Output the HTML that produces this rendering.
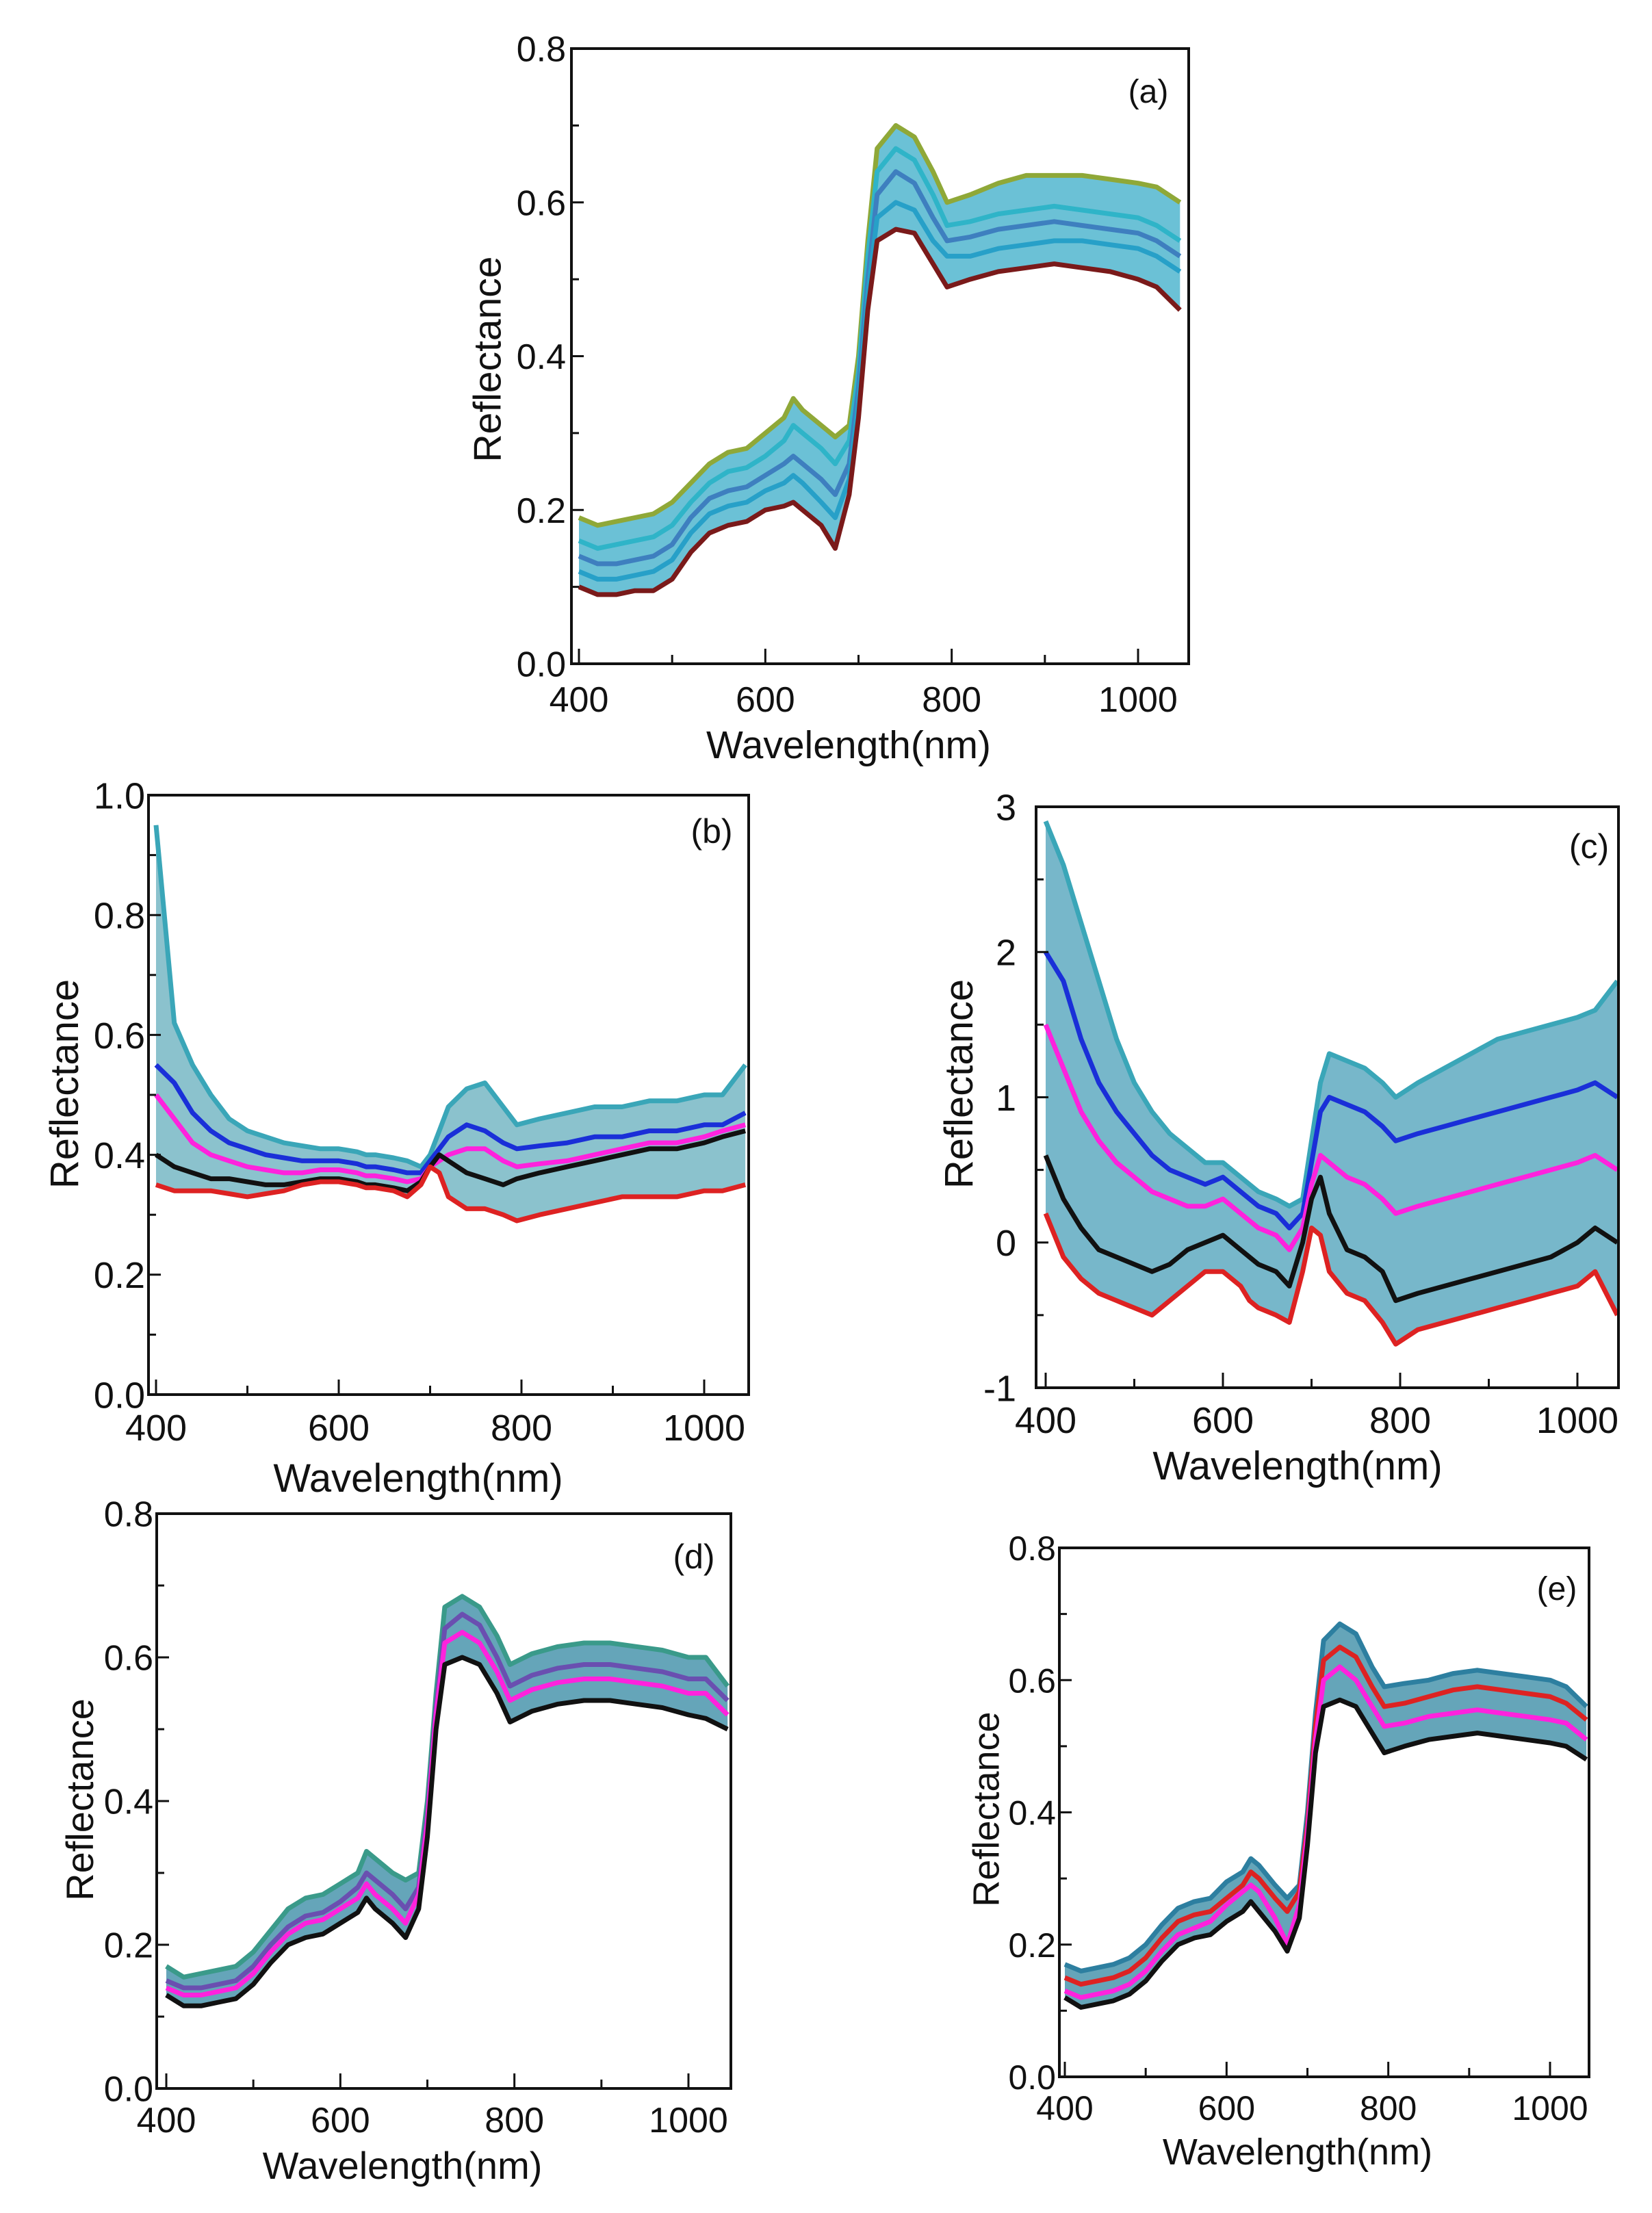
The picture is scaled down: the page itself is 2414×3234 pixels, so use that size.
<!DOCTYPE html>
<html><head><meta charset="utf-8"><style>
html,body{margin:0;padding:0;background:#fff;}
svg{display:block;}
text{font-family:"Liberation Sans",sans-serif;fill:#111;}
</style></head><body>
<svg id="fig" width="2414" height="3234" viewBox="0 0 2414 3234" xmlns="http://www.w3.org/2000/svg"></svg>
<script>
// shared wavelength grid (nm)
const wavelengths = [400,420,440,460,480,500,520,540,560,580,600,620,630,640,660,675,690,700,710,720,740,760,780,795,820,850,880,910,940,970,1000,1020,1045];

// panel (a) raw spectra
const aTop  = [0.19,0.18,0.185,0.19,0.195,0.21,0.235,0.26,0.275,0.28,0.30,0.32,0.345,0.33,0.31,0.295,0.31,0.40,0.55,0.67,0.70,0.685,0.64,0.60,0.61,0.625,0.635,0.635,0.635,0.63,0.625,0.62,0.60];
const aMid1 = [0.16,0.15,0.155,0.16,0.165,0.18,0.21,0.235,0.25,0.255,0.27,0.29,0.31,0.30,0.28,0.26,0.29,0.38,0.53,0.64,0.67,0.655,0.61,0.57,0.575,0.585,0.59,0.595,0.59,0.585,0.58,0.57,0.55];
const aMid2 = [0.14,0.13,0.13,0.135,0.14,0.155,0.19,0.215,0.225,0.23,0.245,0.26,0.27,0.26,0.24,0.22,0.26,0.36,0.50,0.61,0.64,0.625,0.58,0.55,0.555,0.565,0.57,0.575,0.57,0.565,0.56,0.55,0.53];
const aMid3 = [0.12,0.11,0.11,0.115,0.12,0.135,0.17,0.195,0.205,0.21,0.225,0.235,0.245,0.235,0.21,0.19,0.24,0.34,0.48,0.58,0.60,0.59,0.55,0.53,0.53,0.54,0.545,0.55,0.55,0.545,0.54,0.53,0.51];
const aBot  = [0.10,0.09,0.09,0.095,0.095,0.11,0.145,0.17,0.18,0.185,0.20,0.205,0.21,0.20,0.18,0.15,0.22,0.32,0.46,0.55,0.565,0.56,0.52,0.49,0.50,0.51,0.515,0.52,0.515,0.51,0.50,0.49,0.46];

// panel (b)
const bTop  = [0.95,0.62,0.55,0.50,0.46,0.44,0.43,0.42,0.415,0.41,0.41,0.405,0.40,0.40,0.395,0.39,0.38,0.40,0.44,0.48,0.51,0.52,0.48,0.45,0.46,0.47,0.48,0.48,0.49,0.49,0.50,0.50,0.55];
const bMid1 = [0.55,0.52,0.47,0.44,0.42,0.41,0.40,0.395,0.39,0.39,0.39,0.385,0.38,0.38,0.375,0.37,0.37,0.39,0.41,0.43,0.45,0.44,0.42,0.41,0.415,0.42,0.43,0.43,0.44,0.44,0.45,0.45,0.47];
const bMid2 = [0.50,0.46,0.42,0.40,0.39,0.38,0.375,0.37,0.37,0.375,0.375,0.37,0.365,0.365,0.36,0.355,0.36,0.38,0.39,0.40,0.41,0.41,0.39,0.38,0.385,0.39,0.40,0.41,0.42,0.42,0.43,0.44,0.45];
const bMid3 = [0.40,0.38,0.37,0.36,0.36,0.355,0.35,0.35,0.355,0.36,0.36,0.355,0.35,0.35,0.345,0.34,0.355,0.38,0.40,0.39,0.37,0.36,0.35,0.36,0.37,0.38,0.39,0.40,0.41,0.41,0.42,0.43,0.44];
const bBot  = [0.35,0.34,0.34,0.34,0.335,0.33,0.335,0.34,0.35,0.355,0.355,0.35,0.345,0.345,0.34,0.33,0.35,0.38,0.37,0.33,0.31,0.31,0.30,0.29,0.30,0.31,0.32,0.33,0.33,0.33,0.34,0.34,0.35];

// panel (c)
const cTop  = [2.9,2.6,2.2,1.8,1.4,1.1,0.9,0.75,0.65,0.55,0.55,0.45,0.40,0.35,0.30,0.25,0.30,0.70,1.10,1.30,1.25,1.20,1.10,1.00,1.10,1.20,1.30,1.40,1.45,1.50,1.55,1.60,1.80];
const cMid1 = [2.0,1.8,1.4,1.1,0.9,0.75,0.6,0.5,0.45,0.40,0.45,0.35,0.30,0.25,0.20,0.10,0.20,0.55,0.90,1.00,0.95,0.90,0.80,0.70,0.75,0.80,0.85,0.90,0.95,1.00,1.05,1.10,1.00];
const cMid2 = [1.5,1.2,0.9,0.7,0.55,0.45,0.35,0.30,0.25,0.25,0.30,0.20,0.15,0.10,0.05,-0.05,0.10,0.40,0.60,0.55,0.45,0.40,0.30,0.20,0.25,0.30,0.35,0.40,0.45,0.50,0.55,0.60,0.50];
const cMid3 = [0.6,0.3,0.1,-0.05,-0.10,-0.15,-0.20,-0.15,-0.05,0.00,0.05,-0.05,-0.10,-0.15,-0.20,-0.30,0.00,0.30,0.45,0.20,-0.05,-0.10,-0.20,-0.40,-0.35,-0.30,-0.25,-0.20,-0.15,-0.10,0.00,0.10,0.00];
const cBot  = [0.2,-0.1,-0.25,-0.35,-0.40,-0.45,-0.50,-0.40,-0.30,-0.20,-0.20,-0.30,-0.40,-0.45,-0.50,-0.55,-0.20,0.10,0.05,-0.20,-0.35,-0.40,-0.55,-0.70,-0.60,-0.55,-0.50,-0.45,-0.40,-0.35,-0.30,-0.20,-0.50];

// panel (d)
const dTop  = [0.17,0.155,0.16,0.165,0.17,0.19,0.22,0.25,0.265,0.27,0.285,0.30,0.33,0.32,0.30,0.29,0.30,0.40,0.55,0.67,0.685,0.67,0.63,0.59,0.605,0.615,0.62,0.62,0.615,0.61,0.60,0.60,0.56];
const dMid1 = [0.15,0.14,0.14,0.145,0.15,0.17,0.20,0.225,0.24,0.245,0.26,0.28,0.30,0.29,0.27,0.25,0.28,0.38,0.53,0.64,0.66,0.645,0.60,0.56,0.575,0.585,0.59,0.59,0.585,0.58,0.57,0.57,0.54];
const dMid2 = [0.14,0.13,0.13,0.135,0.14,0.16,0.19,0.215,0.23,0.235,0.25,0.265,0.285,0.27,0.25,0.23,0.27,0.37,0.52,0.62,0.635,0.62,0.58,0.54,0.555,0.565,0.57,0.57,0.565,0.56,0.55,0.55,0.52];
const dBot  = [0.13,0.115,0.115,0.12,0.125,0.145,0.175,0.20,0.21,0.215,0.23,0.245,0.265,0.25,0.23,0.21,0.25,0.35,0.50,0.59,0.60,0.59,0.55,0.51,0.525,0.535,0.54,0.54,0.535,0.53,0.52,0.515,0.50];

// panel (e)
const eTop  = [0.17,0.16,0.165,0.17,0.18,0.20,0.23,0.255,0.265,0.27,0.295,0.31,0.33,0.32,0.29,0.27,0.29,0.40,0.55,0.66,0.685,0.67,0.62,0.59,0.595,0.60,0.61,0.615,0.61,0.605,0.60,0.59,0.56];
const eMid1 = [0.15,0.14,0.145,0.15,0.16,0.18,0.21,0.235,0.245,0.25,0.27,0.29,0.31,0.30,0.27,0.25,0.28,0.38,0.53,0.63,0.65,0.635,0.59,0.56,0.565,0.575,0.585,0.59,0.585,0.58,0.575,0.565,0.54];
const eMid2 = [0.13,0.12,0.125,0.13,0.14,0.16,0.19,0.215,0.225,0.235,0.26,0.28,0.29,0.28,0.24,0.20,0.26,0.37,0.51,0.60,0.62,0.60,0.56,0.53,0.535,0.545,0.55,0.555,0.55,0.545,0.54,0.535,0.51];
const eBot  = [0.12,0.105,0.11,0.115,0.125,0.145,0.175,0.20,0.21,0.215,0.235,0.25,0.265,0.25,0.22,0.19,0.24,0.35,0.49,0.56,0.57,0.56,0.52,0.49,0.50,0.51,0.515,0.52,0.515,0.51,0.505,0.50,0.48];

// tick labels
const xTicks = [400,600,800,1000];
const yTicksA = ["0.0","0.2","0.4","0.6","0.8"];
const yTicksB = ["0.0","0.2","0.4","0.6","0.8","1.0"];
const yTicksC = ["-1","0","1","2","3"];
const yTicksDE = ["0.0","0.2","0.4","0.6","0.8"];

const NS = "http://www.w3.org/2000/svg";
const svg = document.getElementById('fig');
function mk(tag, attrs, parent){ const e=document.createElementNS(NS,tag); for(const k in attrs) e.setAttribute(k,attrs[k]); (parent||svg).appendChild(e); return e; }

const panels = [
 {id:'a', L:835, R:1737, T:71, B:970, x0:846, x1:1663, ymin:0, ymax:0.8, yt:yTicksA, minor:0.1,
  series:[[aTop,'#8fa838'],[aMid1,'#2fb4c8'],[aMid2,'#3e7fbf'],[aMid3,'#27a0c8'],[aBot,'#7a1a1a']], band:'#46b2cc', op:0.8,
  fs:52, tfs:57, ylabX:827, ytX:711, ytY:525, xlabY:1040, xtX:1240, xtY:1108, plX:1678, plY:150, plfs:48},
 {id:'b', L:217, R:1094, T:1162, B:2038, x0:228, x1:1029, ymin:0, ymax:1.0, yt:yTicksB, minor:0.1,
  series:[[bTop,'#3aa6b8'],[bMid1,'#1a2fd8'],[bMid2,'#ff22dd'],[bMid3,'#111111'],[bBot,'#dd2222']], band:'#5aa8b8', op:0.7,
  fs:54, tfs:58, ylabX:212, ytX:93, ytY:1584, xlabY:2105, xtX:611, xtY:2180, plX:1040, plY:1232, plfs:50},
 {id:'c', L:1514, R:2365, T:1179, B:2028, x0:1528, x1:2305, ymin:-1, ymax:3, yt:yTicksC, minor:0.5,
  series:[[cTop,'#3aa6b8'],[cMid1,'#1a2fd8'],[cMid2,'#ff22dd'],[cMid3,'#111111'],[cBot,'#dd2222']], band:'#4a9fb8', op:0.75,
  fs:54, tfs:58, ylabX:1485, ytX:1400, ytY:1584, xlabY:2094, xtX:1896, xtY:2162, plX:2322, plY:1254, plfs:50},
 {id:'d', L:229, R:1068, T:2212, B:3052, x0:243, x1:1006, ymin:0, ymax:0.8, yt:yTicksDE, minor:0.1,
  series:[[dTop,'#3a9a8a'],[dMid1,'#6a4fb0'],[dMid2,'#ff22dd'],[dBot,'#111111']], band:'#3f8fa8', op:0.8,
  fs:52, tfs:56, ylabX:224, ytX:116, ytY:2630, xlabY:3116, xtX:588, xtY:3184, plX:1014, plY:2292, plfs:50},
 {id:'e', L:1548, R:2322, T:2262, B:3035, x0:1556, x1:2265, ymin:0, ymax:0.8, yt:yTicksDE, minor:0.1,
  series:[[eTop,'#2d7fa0'],[eMid1,'#dd2222'],[eMid2,'#ff22dd'],[eBot,'#111111']], band:'#3f8fa8', op:0.8,
  fs:50, tfs:54, ylabX:1543, ytX:1440, ytY:2644, xlabY:3098, xtX:1896, xtY:3163, plX:2275, plY:2338, plfs:48}
];

panels.forEach(p=>{
  const g = mk('g',{});
  
  
  const sx = w => p.x0 + (w-400)*(p.x1-p.x0)/600;
  const sy = v => p.B - (v-p.ymin)*(p.B-p.T)/(p.ymax-p.ymin);
  const clip = mk('clipPath',{id:'clip'+p.id},g);
  mk('rect',{x:p.L,y:p.T,width:p.R-p.L,height:p.B-p.T},clip);
  const plot = mk('g',{'clip-path':'url(#clip'+p.id+')'},g);
  
  
  const top = p.series[0][0], bot = p.series[p.series.length-1][0];
  let d = wavelengths.map((w,i)=>(i?'L':'M')+sx(w).toFixed(1)+','+sy(top[i]).toFixed(1)).join('');
  for(let i=wavelengths.length-1;i>=0;i--) d+='L'+sx(wavelengths[i]).toFixed(1)+','+sy(bot[i]).toFixed(1);
  const band = mk('path',{d:d+'Z',fill:p.band,'fill-opacity':p.op,stroke:'none'},plot);
  
  
  p.series.forEach((s,k)=>{
    const pts = wavelengths.map((w,i)=>(i?'L':'M')+sx(w).toFixed(1)+','+sy(s[0][i]).toFixed(1)).join('');
    const ln = mk('path',{d:pts,fill:'none',stroke:s[1],'stroke-width':7,'stroke-linejoin':'round'},plot);
    
    
  });
  const fr = mk('rect',{x:p.L,y:p.T,width:p.R-p.L,height:p.B-p.T,fill:'none',stroke:'#111','stroke-width':4},g);
  
  
  for(let w=400; w<=1000; w+=100){
    const X=sx(w), len = (w%200===0)?22:13;
    mk('line',{x1:X,y1:p.B,x2:X,y2:p.B-len,stroke:'#111','stroke-width':3},g);
  }
  xTicks.forEach(w=>{
    const t = mk('text',{x:sx(w),y:p.xlabY,'font-size':p.fs,'text-anchor':'middle'},g);
    t.textContent = w;
    
    
  });
  const steps = Math.round((p.ymax-p.ymin)/p.minor);
  for(let i=0;i<=steps;i++){
    const v=p.ymin+i*p.minor, Y=sy(v), major = (i%2===0);
    mk('line',{x1:p.L,y1:Y,x2:p.L+(major?18:11),y2:Y,stroke:'#111','stroke-width':3},g);
  }
  p.yt.forEach(lbl=>{
    const t = mk('text',{x:p.ylabX,y:sy(parseFloat(lbl))+p.fs*0.36,'font-size':p.fs,'text-anchor':'end'},g);
    t.textContent = lbl;
    
    
  });
  const yt = mk('text',{x:0,y:0,'font-size':p.tfs,'text-anchor':'middle',transform:'translate('+(p.ytX+p.tfs*0.36)+','+p.ytY+') rotate(-90)'},g);
  yt.textContent='Reflectance';
  
  
  const xt = mk('text',{x:p.xtX,y:p.xtY,'font-size':p.tfs,'text-anchor':'middle'},g);
  xt.textContent='Wavelength(nm)';
  
  
  const pl = mk('text',{x:p.plX,y:p.plY,'font-size':p.plfs,'text-anchor':'middle'},g);
  pl.textContent='('+p.id+')';
  
  
});
</script>
</body></html>
